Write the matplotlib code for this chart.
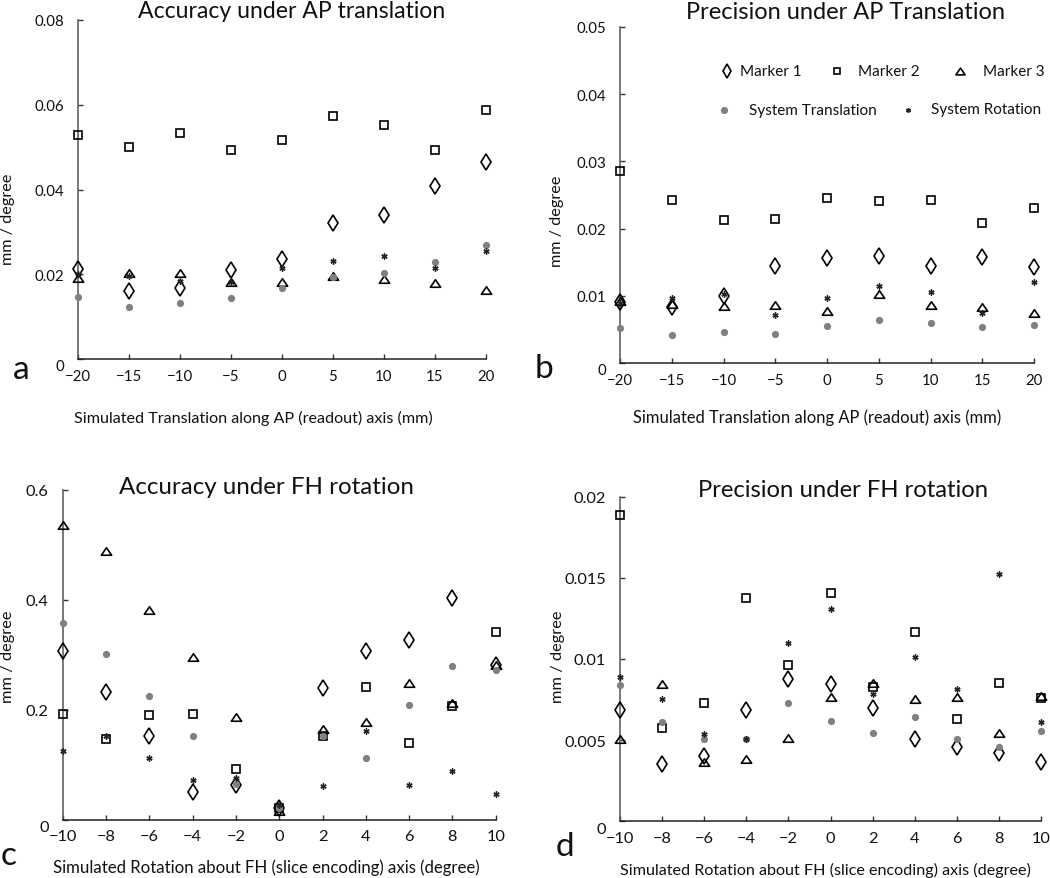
import matplotlib
matplotlib.use("Agg")
import matplotlib.pyplot as plt
from matplotlib.lines import Line2D
from matplotlib.path import Path
import matplotlib.transforms as mtransforms

plt.rcParams['font.family'] = ['Lato', 'DejaVu Sans']
plt.rcParams['axes.unicode_minus'] = True

# ---------------- data ----------------
x_trans = [-20, -15, -10, -5, 0, 5, 10, 15, 20]
x_rot = [-10, -8, -6, -4, -2, 0, 2, 4, 6, 8, 10]

# (a) Accuracy under AP translation
a_m1 = [0.0212, 0.0160, 0.0168, 0.0210, 0.0235, 0.0321, 0.0340, 0.0409, 0.0464]
a_m2 = [0.0529, 0.0500, 0.0533, 0.0493, 0.0516, 0.0573, 0.0553, 0.0493, 0.0588]
a_m3 = [0.0190, 0.0202, 0.0202, 0.0181, 0.0182, 0.0196, 0.0189, 0.0179, 0.0164]
a_st = [0.0146, 0.0122, 0.0132, 0.0144, 0.0167, 0.0193, 0.0202, 0.0230, 0.0270]
a_sr = [0.0200, 0.0195, 0.0183, 0.0181, 0.0214, 0.0232, 0.0242, 0.0215, 0.0256]

# (b) Precision under AP translation
b_m1 = [0.0091, 0.0083, 0.0099, 0.0144, 0.0156, 0.0159, 0.0144, 0.0158, 0.0143]
b_m2 = [0.0286, 0.0243, 0.0213, 0.0215, 0.0245, 0.0241, 0.0243, 0.0208, 0.0230]
b_m3 = [0.0092, 0.0088, 0.0085, 0.0086, 0.0078, 0.0102, 0.0086, 0.0083, 0.0074]
b_st = [0.0052, 0.0041, 0.0046, 0.0043, 0.0055, 0.0064, 0.0059, 0.0053, 0.0056]
b_sr = [0.0090, 0.0097, 0.0103, 0.0072, 0.0096, 0.0114, 0.0106, 0.0074, 0.0121]

# (c) Accuracy under FH rotation
c_m1 = [0.307, 0.233, 0.153, 0.050, 0.064, 0.022, 0.239, 0.306, 0.326, 0.403, 0.281]
c_m2 = [0.192, 0.147, 0.190, 0.193, 0.092, 0.022, 0.152, 0.241, 0.139, 0.207, 0.341]
c_m3 = [0.535, 0.488, 0.382, 0.296, 0.186, 0.016, 0.165, 0.178, 0.248, 0.213, 0.282]
c_st = [0.358, 0.302, 0.225, 0.153, 0.065, 0.021, 0.153, 0.113, 0.208, 0.279, 0.272]
c_sr = [0.125, 0.153, 0.112, 0.073, 0.076, 0.027, 0.061, 0.162, 0.064, 0.089, 0.047]

# (d) Precision under FH rotation
d_m1 = [0.00686, 0.00353, 0.00402, 0.00686, 0.00877, 0.00846, 0.00696, 0.00507, 0.00458, 0.00421, 0.00363]
d_m2 = [0.01885, 0.00577, 0.00727, 0.01378, 0.00961, 0.01405, 0.00825, 0.01166, 0.00628, 0.00850, 0.00762]
d_m3 = [0.00505, 0.00845, 0.00365, 0.00385, 0.00515, 0.00765, 0.00855, 0.00755, 0.00765, 0.00545, 0.00775]
d_st = [0.00842, 0.00614, 0.00505, 0.00505, 0.00727, 0.00618, 0.00542, 0.00645, 0.00505, 0.00456, 0.00556]
d_sr = [0.00889, 0.00752, 0.00536, 0.00505, 0.01097, 0.01308, 0.00784, 0.01014, 0.00815, 0.01522, 0.00614]

titles = ["Accuracy under AP translation", "Precision under AP Translation",
          "Accuracy under FH rotation", "Precision under FH rotation"]
xlabels = ["Simulated Translation along AP (readout) axis (mm)",
           "Simulated Translation along AP (readout) axis (mm)",
           "Simulated Rotation about FH (slice encoding) axis (degree)",
           "Simulated Rotation about FH (slice encoding) axis (degree)"]
ylabel = "mm / degree"
panel_letters = ["a", "b", "c", "d"]
legend_labels = ["Marker 1", "Marker 2", "Marker 3", "System Translation", "System Rotation"]

yticks_a = [0, 0.02, 0.04, 0.06, 0.08]
yticks_b = [0, 0.01, 0.02, 0.03, 0.04, 0.05]
yticks_c = [0, 0.2, 0.4, 0.6]
yticks_d = [0, 0.005, 0.01, 0.015, 0.02]
ytl_a = ["0", "0.02", "0.04", "0.06", "0.08"]
ytl_b = ["0", "0.01", "0.02", "0.03", "0.04", "0.05"]
ytl_c = ["0", "0.2", "0.4", "0.6"]
ytl_d = ["0", "0.005", "0.01", "0.015", "0.02"]
xticks_t = [-20, -15, -10, -5, 0, 5, 10, 15, 20]
xticks_r = [-10, -8, -6, -4, -2, 0, 2, 4, 6, 8, 10]

# ---------------- styles ----------------
W, H = 1050, 879
tri = Path([(-1, -0.73), (1, -0.73), (0, 0.73), (-1, -0.73)],
           [Path.MOVETO, Path.LINETO, Path.LINETO, Path.CLOSEPOLY])
GRAY = '#808080'
styles = [
    dict(marker='d', ms=8.0, mfc='none', mec='black', mew=1.2),
    dict(marker='s', ms=5.4, mfc='none', mec='black', mew=1.2),
    dict(marker=tri, ms=7.4, mfc='none', mec='black', mew=1.2),
    dict(marker='o', ms=5.2, mfc=GRAY, mec='none', mew=0),
    dict(marker=(6, 2, 0), ms=4.4, mfc='#222222', mec='#222222', mew=1.0),
]

fig = plt.figure(figsize=(W / 100, H / 100), dpi=100)


def fx(px):
    return px / W


def fy(py):
    return 1 - py / H


# axes rectangles in pixels: left, top, right, bottom
rects = [(78, 21, 486, 360), (620, 28, 1034, 364),
         (62.7, 490.7, 495.7, 820.7), (620, 497.7, 1041, 822.3)]

panels = [
    (x_trans, [a_m1, a_m2, a_m3, a_st, a_sr], (-20, 20), (0, 0.08), yticks_a, ytl_a, xticks_t),
    (x_trans, [b_m1, b_m2, b_m3, b_st, b_sr], (-20, 20), (0, 0.05), yticks_b, ytl_b, xticks_t),
    (x_rot, [c_m1, c_m2, c_m3, c_st, c_sr], (-10, 10), (0, 0.6), yticks_c, ytl_c, xticks_r),
    (x_rot, [d_m1, d_m2, d_m3, d_st, d_sr], (-10, 10), (0, 0.02), yticks_d, ytl_d, xticks_r),
]

tick_fs = [10.8, 10.8, 11.8, 11.8]
axes = []
for i, (rect, (xs, series, xl, yl, yt, ytl, xt)) in enumerate(zip(rects, panels)):
    l, t, r, b = rect
    ax = fig.add_axes([fx(l), fy(b), (r - l) / W, (b - t) / H])
    axes.append(ax)
    order = [3, 0, 1, 2, 4]
    for k in order:
        ax.plot(xs, series[k], linestyle='none', clip_on=False, zorder=3 + k, **styles[k])
    ax.set_xlim(*xl)
    ax.set_ylim(*yl)
    ax.set_xticks(xt)
    ax.set_xticklabels([str(v).replace('-', '\u2212') for v in xt])
    ax.set_yticks(yt)
    ax.set_yticklabels(ytl)
    for s in ['top', 'right']:
        ax.spines[s].set_visible(False)
    ax.spines['left'].set_color('#555555')
    ax.spines['bottom'].set_color('#222222')
    ax.spines['left'].set_linewidth(1.1)
    ax.spines['bottom'].set_linewidth(1.1)
    ax.tick_params(axis='both', direction='in', length=3.5, width=1.0, color='#333333',
                   labelsize=tick_fs[i], labelcolor='#111111')
    ax.tick_params(axis='x', pad=7)
    ax.tick_params(axis='y', pad=10)
    ax.patch.set_visible(False)
    # "0" label sits slightly lower in the reference
    lab0 = ax.get_yticklabels()[0]
    lab0.set_transform(lab0.get_transform() +
                       mtransforms.ScaledTranslation(0, -6 / 100, fig.dpi_scale_trans))

# titles
title_pos = [(291.5, 18.3, 16.6), (845.5, 19.3, 17.0), (266.5, 494, 17.4), (843, 497.3, 17.2)]
for txt, (x, y, fs) in zip(titles, title_pos):
    fig.text(fx(x), fy(y), txt, ha='center', va='baseline', fontsize=fs, color='#111111')

# x labels
xlab_pos = [(253, 423, 11.6), (817.5, 423, 11.9), (266, 873, 12.1), (825, 875, 11.6)]
for txt, (x, y, fs) in zip(xlabels, xlab_pos):
    fig.text(fx(x), fy(y), txt, ha='center', va='baseline', fontsize=fs, color='#111111')

# y labels
ylab_pos = [(8, 219, 11.7), (557, 221, 11.7), (8, 657, 11.8), (558, 657, 11.8)]
for (x, y, fs) in ylab_pos:
    fig.text(fx(x), fy(y), ylabel, ha='center', va='center', rotation=90,
             fontsize=fs, color='#111111')

# panel letters
letter_pos = [(21, 370), (544, 369), (9, 856), (565, 847)]
for txt, (x, y) in zip(panel_letters, letter_pos):
    fig.text(fx(x), fy(y), txt, ha='center', va='center', fontsize=24, color='#111111')

# legend (panel b)
leg_marks = [(727, 71.5), (837, 71.5), (960, 71.5), (724.3, 111), (908.3, 111)]
leg_texts = [(739.5, 71.5), (858, 71.5), (982.7, 71.5), (749.3, 111.5), (930.7, 110)]
leg_ms = [0.85, 0.85, 0.9, 1.0, 0.8]
for k in range(5):
    st = dict(styles[k])
    st['ms'] = st['ms'] * leg_ms[k]
    mx, my = leg_marks[k]
    fig.add_artist(Line2D([fx(mx)], [fy(my)], linestyle='none',
                          transform=fig.transFigure, **st))
    tx, ty = leg_texts[k]
    fig.text(fx(tx), fy(ty), legend_labels[k], ha='left', va='center',
             fontsize=11.0, color='#111111')

fig.savefig("out.png", dpi=100)
